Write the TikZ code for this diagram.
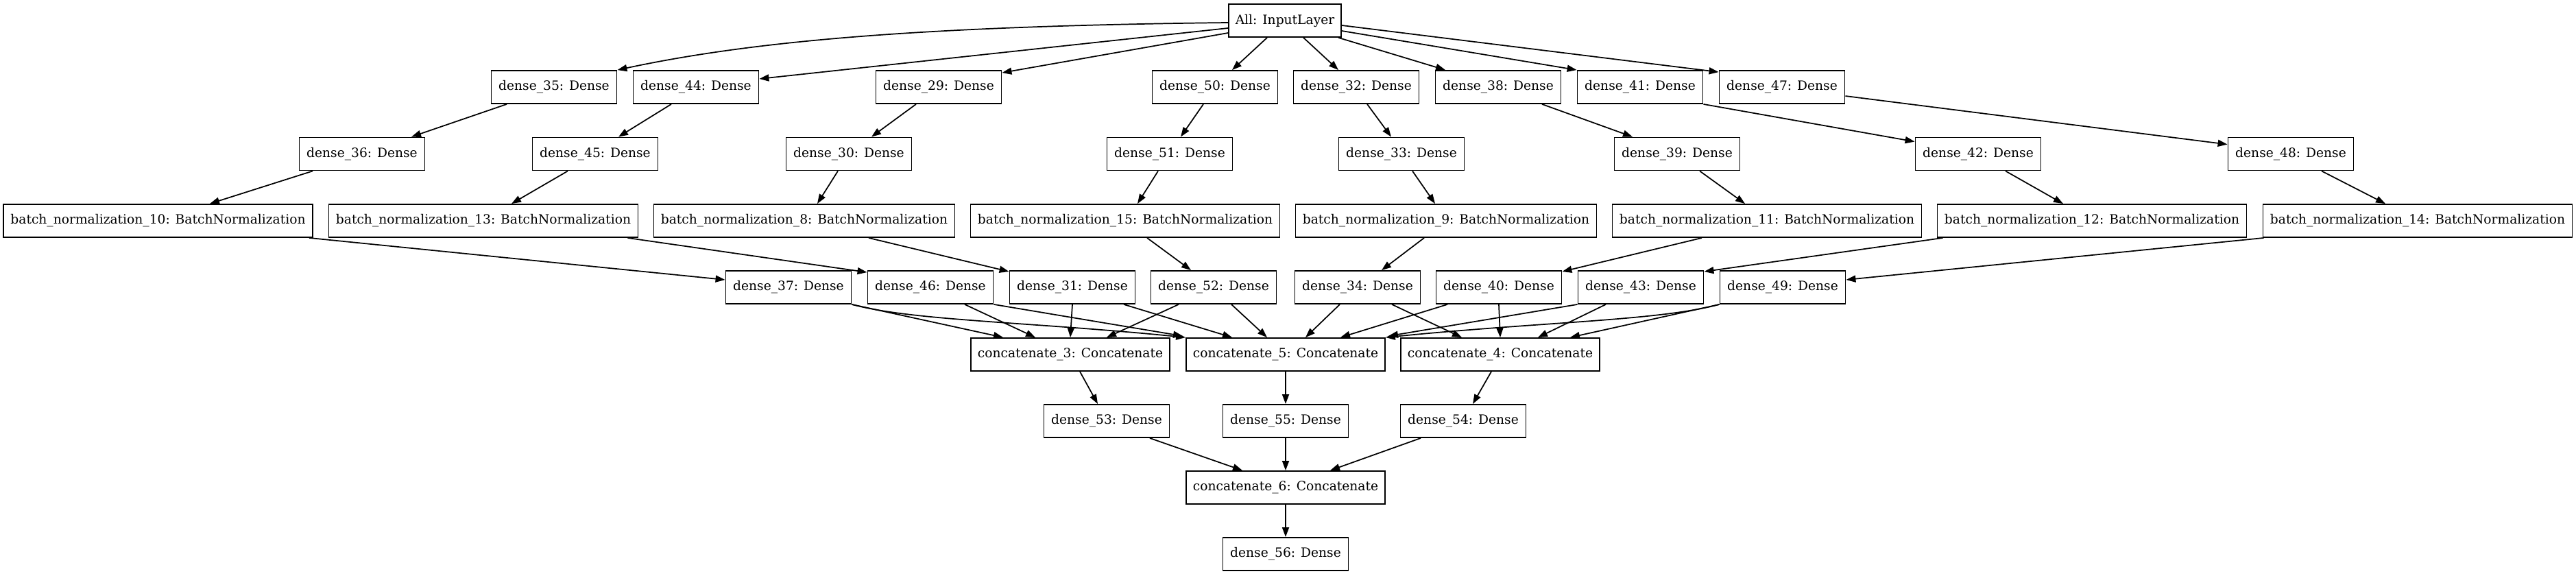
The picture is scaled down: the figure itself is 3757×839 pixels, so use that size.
\documentclass[tikz,border=0pt]{standalone}
\usepackage{fontspec}
\setmainfont{DejaVu Serif}
\usetikzlibrary{arrows.meta,calc}
\begin{document}
\begin{tikzpicture}[x=0.75pt,y=-0.75pt,
 lay/.style={draw=black, line width=1.4pt, inner sep=0pt, minimum height=36pt, font=\fontsize{14}{17}\selectfont},
 dn/.style={lay, minimum width=137.25pt},
 bnw/.style={lay, minimum width=338.25pt},
 bnn/.style={lay, minimum width=329.25pt},
 cc/.style={lay, minimum width=217.5pt},
 inl/.style={lay, minimum width=123pt},
 arr/.style={line width=1.3pt, -{Triangle[length=10.5pt,width=7.5pt]}}]
\useasboundingbox (0,0) rectangle (3757,839);
\fill[white] (0,0) rectangle (3757,839);
% rank 0
\node[inl] (inp) at (1874,30) {All: InputLayer};
% rank 1
\node[dn] (d35) at (808,127) {dense\_35: Dense};
\node[dn] (d44) at (1015,127) {dense\_44: Dense};
\node[dn] (d29) at (1369,127) {dense\_29: Dense};
\node[dn] (d50) at (1772,127) {dense\_50: Dense};
\node[dn] (d32) at (1978,127) {dense\_32: Dense};
\node[dn] (d38) at (2185,127) {dense\_38: Dense};
\node[dn] (d41) at (2392,127) {dense\_41: Dense};
\node[dn] (d47) at (2599,127) {dense\_47: Dense};
% rank 2
\node[dn] (d36) at (528,224.5) {dense\_36: Dense};
\node[dn] (d45) at (868,224.5) {dense\_45: Dense};
\node[dn] (d30) at (1238,224.5) {dense\_30: Dense};
\node[dn] (d51) at (1706,224.5) {dense\_51: Dense};
\node[dn] (d33) at (2044,224.5) {dense\_33: Dense};
\node[dn] (d39) at (2446,224.5) {dense\_39: Dense};
\node[dn] (d42) at (2885,224.5) {dense\_42: Dense};
\node[dn] (d48) at (3341,224.5) {dense\_48: Dense};
% rank 3
\node[bnw] (bn10) at (230.5,322) {batch\_normalization\_10: BatchNormalization};
\node[bnw] (bn13) at (705,322) {batch\_normalization\_13: BatchNormalization};
\node[bnn] (bn8) at (1173,322) {batch\_normalization\_8: BatchNormalization};
\node[bnw] (bn15) at (1641,322) {batch\_normalization\_15: BatchNormalization};
\node[bnn] (bn9) at (2109,322) {batch\_normalization\_9: BatchNormalization};
\node[bnw] (bn11) at (2577,322) {batch\_normalization\_11: BatchNormalization};
\node[bnw] (bn12) at (3051,322) {batch\_normalization\_12: BatchNormalization};
\node[bnw] (bn14) at (3526,322) {batch\_normalization\_14: BatchNormalization};
% rank 4
\node[dn] (d37) at (1150,419) {dense\_37: Dense};
\node[dn] (d46) at (1357,419) {dense\_46: Dense};
\node[dn] (d31) at (1564,419) {dense\_31: Dense};
\node[dn] (d52) at (1770,419) {dense\_52: Dense};
\node[dn] (d34) at (1980,419) {dense\_34: Dense};
\node[dn] (d40) at (2186,419) {dense\_40: Dense};
\node[dn] (d43) at (2393,419) {dense\_43: Dense};
\node[dn] (d49) at (2600,419) {dense\_49: Dense};
% rank 5
\node[cc] (cc3) at (1561,517) {concatenate\_3: Concatenate};
\node[cc] (cc5) at (1875,517) {concatenate\_5: Concatenate};
\node[cc] (cc4) at (2188,517) {concatenate\_4: Concatenate};
% rank 6
\node[dn] (d53) at (1614,614) {dense\_53: Dense};
\node[dn] (d55) at (1875,614) {dense\_55: Dense};
\node[dn] (d54) at (2134,614) {dense\_54: Dense};
% rank 7, 8
\node[cc] (cc6) at (1875,711) {concatenate\_6: Concatenate};
\node[dn] (d56) at (1875,808) {dense\_56: Dense};

% input -> rank 1
\draw[arr] ($(inp.west)+(0,3)$) .. controls +(-442,5) and +(201,-43) .. (d35.north east);
\draw[arr] ($(inp.west)+(0,11)$) -- ($(d44.east)+(0,-12)$);
\draw[arr] ($(inp.west)+(0,18)$) -- ($(d29.north east)+(0,4)$);
\draw[arr] ($(inp.south)+(-26,0)$) -- ($(d50.north)+(25,0)$);
\draw[arr] ($(inp.south)+(27,0)$) -- ($(d32.north)+(-26,0)$);
\draw[arr] ($(inp.south)+(78,0)$) -- ($(d38.north)+(-77,0)$);
\draw[arr] ($(inp.east)+(0,15)$) -- (d41.north west);
\draw[arr] ($(inp.east)+(0,7)$) -- ($(d47.north west)+(0,3)$);
% rank 1 -> rank 2
\draw[arr] ($(d35.south)+(-69,0)$) -- ($(d36.north)+(72,0)$);
\draw[arr] ($(d44.south)+(-36,0)$) -- ($(d45.north)+(34,0)$);
\draw[arr] ($(d29.south)+(-33,0)$) -- ($(d30.north)+(33,0)$);
\draw[arr] ($(d50.south)+(-17,0)$) -- ($(d51.north)+(16,0)$);
\draw[arr] ($(d32.south)+(16,0)$) -- ($(d33.north)+(-15,0)$);
\draw[arr] ($(d38.south)+(64,0)$) -- ($(d39.north)+(-65,0)$);
\draw[arr] (d41.south east) -- ($(d42.north west)+(0,7)$);
\draw[arr] ($(d47.east)+(0,13)$) -- ($(d48.north west)+(0,11)$);
% rank 2 -> rank 3
\draw[arr] ($(d36.south)+(-72,0)$) -- ($(bn10.north)+(75.5,0)$);
\draw[arr] ($(d45.south)+(-40,0)$) -- ($(bn13.north)+(41,0)$);
\draw[arr] ($(d30.south)+(-16,0)$) -- ($(bn8.north)+(19,0)$);
\draw[arr] ($(d51.south)+(-17,0)$) -- ($(bn15.north)+(18,0)$);
\draw[arr] ($(d33.south)+(16,0)$) -- ($(bn9.north)+(-16,0)$);
\draw[arr] ($(d39.south)+(33,0)$) -- ($(bn11.north)+(-32,0)$);
\draw[arr] ($(d42.south)+(40,0)$) -- ($(bn12.north)+(-42,0)$);
\draw[arr] ($(d48.south)+(45,0)$) -- ($(bn14.north)+(-47,0)$);
% rank 3 -> rank 4
\draw[arr] ($(bn10.south east)+(-6,0)$) -- ($(d37.west)+(0,-11)$);
\draw[arr] ($(bn13.south east)+(-16,0)$) -- ($(d46.north west)+(0,3)$);
\draw[arr] ($(bn8.south)+(94,0)$) -- ($(d31.north west)+(0,2)$);
\draw[arr] ($(bn15.south)+(32,0)$) -- ($(d52.north)+(-33,0)$);
\draw[arr] ($(bn9.south)+(-32,0)$) -- ($(d34.north)+(35,0)$);
\draw[arr] ($(bn11.south)+(-95,0)$) -- ($(d40.north east)+(0,2)$);
\draw[arr] ($(bn12.south west)+(9,0)$) -- ($(d43.north east)+(0,2)$);
\draw[arr] ($(bn14.south west)+(2,0)$) -- ($(d49.east)+(0,-11)$);
% rank 4 -> rank 5
\draw[arr] (d37.south east) -- ($(cc3.north)+(-98,0)$);
\draw[arr] (d37.south east) .. controls +(89,24) and +(-230,-23) .. (cc5.north west);
\draw[arr] ($(d46.south)+(50,0)$) -- ($(cc3.north)+(-51,0)$);
\draw[arr] (d46.south east) -- ($(cc5.north west)+(-4,-2)$);
\draw[arr] (d31.south) -- (cc3.north);
\draw[arr] ($(d31.south)+(75,0)$) -- ($(cc5.north)+(-78,0)$);
\draw[arr] ($(d52.south)+(-51,0)$) -- ($(cc3.north)+(53,0)$);
\draw[arr] ($(d52.south)+(26,0)$) -- ($(cc5.north)+(-27,0)$);
\draw[arr] ($(d34.south)+(-26,0)$) -- ($(cc5.north)+(29,0)$);
\draw[arr] ($(d34.south)+(50,0)$) -- ($(cc4.north)+(-56,0)$);
\draw[arr] ($(d40.south)+(-75,0)$) -- ($(cc5.north)+(80,0)$);
\draw[arr] (d40.south) -- (cc4.north);
\draw[arr] (d43.south west) -- ($(cc5.north east)+(4,-2)$);
\draw[arr] ($(d43.south)+(-51,0)$) -- ($(cc4.north)+(55,0)$);
\draw[arr] (d49.south west) .. controls +(-89,24) and +(230,-23) .. (cc5.north east);
\draw[arr] (d49.south west) -- ($(cc4.north)+(102,0)$);
% lower part
\draw[arr] ($(cc3.south)+(14,0)$) -- ($(d53.north)+(-13,0)$);
\draw[arr] (cc5.south) -- (d55.north);
\draw[arr] ($(cc4.south)+(-13,0)$) -- ($(d54.north)+(14,0)$);
\draw[arr] ($(d53.south)+(63,0)$) -- ($(cc6.north)+(-63,0)$);
\draw[arr] (d55.south) -- (cc6.north);
\draw[arr] ($(d54.south)+(-62,0)$) -- ($(cc6.north)+(65,0)$);
\draw[arr] (cc6.south) -- (d56.north);
\end{tikzpicture}
\end{document}
